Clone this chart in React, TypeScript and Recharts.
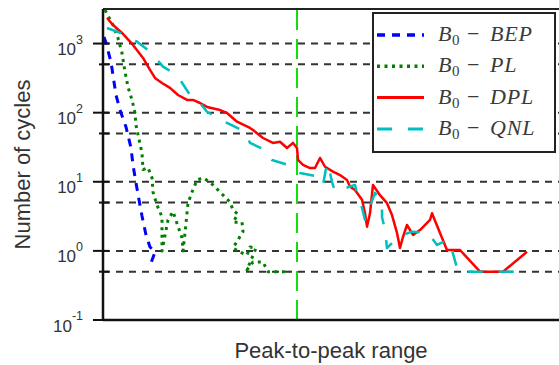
import React from 'react';
import { LineChart, Line, XAxis, YAxis, CartesianGrid, ReferenceLine, Legend } from 'recharts';

// x: peak-to-peak range (arbitrary units), v: number of cycles
const bepX = [1, 3, 8, 13, 17, 23, 28, 30, 33, 36, 39, 43, 47, 52, 48, 48];
const bepV = [1250, 1020, 540, 180, 109, 62, 31, 17.5, 9.6, 5.5, 3.2, 1.7, 1.14, 0.96, 0.67, 0.57];

const plX = [2, 10, 15, 19, 22, 25, 29, 32, 33, 35, 39, 40, 45, 49, 50, 54, 59, 59, 65, 70, 74, 79, 80, 82, 85, 89, 94, 100, 107, 117, 127, 130, 135, 130, 139, 140, 130, 137, 144, 147, 153, 144, 150, 160, 165, 187];
const plV = [3060, 1860, 1200, 730, 390, 235, 153, 99, 66, 48, 26, 15, 16, 11.4, 7.1, 4.6, 3.1, 1.0, 2.8, 3.7, 2.5, 1.55, 1.0, 1.8, 4.9, 7.1, 10.6, 11.4, 9.9, 7.1, 5.1, 3.9, 3.4, 2.6, 2.6, 1.9, 1.1, 0.96, 0.87, 1.14, 1.1, 0.53, 0.69, 0.69, 0.5, 0.5];

const dplX = [4, 10, 19, 30, 40, 47, 52, 59, 67, 75, 84, 90, 97, 104, 117, 124, 134, 147, 150, 160, 170, 177, 184, 190, 194, 195, 200, 207, 212, 217, 222, 230, 237, 244, 247, 252, 259, 262, 264, 267, 270, 277, 284, 289, 294, 297, 300, 304, 310, 317, 327, 329, 337, 344, 357, 377, 400, 424];
const dplV = [2345, 1858, 1423, 955, 619, 415, 318, 269, 228, 180, 153, 153, 138, 121, 109, 99, 74, 60, 56, 43, 36.5, 38, 30.8, 36.5, 30.8, 20.7, 17.5, 15.8, 15.8, 22.1, 16.5, 14.0, 12.5, 10.6, 8.5, 7.6, 5.5, 3.5, 2.24, 3.5, 9.0, 6.4, 4.9, 3.3, 1.82, 1.1, 1.6, 2.37, 1.7, 2.0, 2.8, 3.5, 1.82, 1.03, 1.03, 0.5, 0.5, 0.97];

const qnlX = [4, 15, 34, 47, 60, 74, 87, 97, 104, 124, 142, 147, 162, 169, 185, 197, 215, 220, 224, 227, 229, 232, 252, 255, 259, 262, 272, 279, 279, 282, 284, 289, 300, 309, 325, 334, 344, 349, 355, 415];
const qnlV = [1680, 1470, 1066, 764, 463, 351, 180, 138, 103, 71, 53, 36.5, 28.9, 20.7, 17.5, 13.4, 11.9, 9.0, 18.7, 13.4, 10, 7.2, 9.0, 6.1, 4.2, 2.8, 6.9, 4.9, 3.1, 2.0, 1.1, 1.3, 1.7, 1.9, 1.82, 1.22, 1.44, 1.03, 0.5, 0.5];

const yTicks = [0.1, 0.5, 1, 5, 10, 50, 100, 500, 1000];
const gridValues = [0.5, 1, 5, 10, 50, 100, 500, 1000];
const xDomain = [0, 456];
const yDomain = [0.1, 3162];
const boundaryX = 194;

const zip = (xs: number[], vs: number[]) => xs.map((x, i) => ({ x, v: vs[i] }));

const SERIES = [
  { key: 'BEP', name: 'BEP', data: zip(bepX, bepV), color: '#0000ff', width: 3, dash: '8 7' },
  { key: 'PL', name: 'PL', data: zip(plX, plV), color: '#007f00', width: 3, dash: '3 4.5' },
  { key: 'DPL', name: 'DPL', data: zip(dplX, dplV), color: '#ff0000', width: 2.5, dash: undefined },
  { key: 'QNL', name: 'QNL', data: zip(qnlX, qnlV), color: '#00bfbf', width: 2.5, dash: '15 16' },
];

const SANS = "'Liberation Sans', Arial, Helvetica, sans-serif";
const SERIF = "'Liberation Serif', 'Times New Roman', serif";

const YTick = (props: any) => {
  const { x, y, payload } = props;
  const v = payload.value;
  const lg = Math.log10(v);
  const exp = Math.round(lg);
  const major = Math.abs(lg - exp) < 1e-6;
  return (
    <g>
      <line x1={x - (major ? 10 : 4)} x2={x + 6} y1={y} y2={y} stroke="#111" strokeWidth={2} />
      {major && (
        <text x={x - 20} y={y + 11.5} textAnchor="end" fontFamily={SANS} fontSize={17} fill="#333">
          10
          <tspan dy={-11.5} fontSize={12.5}>{String(exp)}</tspan>
        </text>
      )}
    </g>
  );
};

const LegendBox = () => (
  <svg width={185} height={142} style={{ display: 'block' }}>
    <rect x={1} y={1} width={182} height={139} fill="#fff" stroke="#222" strokeWidth={2} />
    {SERIES.map((s, i) => {
      const cy = 23 + i * 31.3;
      return (
        <g key={s.key}>
          <line x1={5} x2={52} y1={cy} y2={cy} stroke={s.color} strokeWidth={s.width + 0.5} strokeDasharray={s.dash} />
          <text y={cy + 6} fontFamily={SERIF} fontSize={22} fill="#3a3a3a">
            <tspan x={66} fontStyle="italic">B</tspan>
            <tspan x={80} dy={4} fontSize={15}>0</tspan>
            <tspan x={95} dy={-4}>−</tspan>
            <tspan x={118} fontStyle="italic" letterSpacing={0.8}>{s.name}</tspan>
          </text>
        </g>
      );
    })}
  </svg>
);

const YLabel = (props: any) => {
  const vb = props.viewBox || {};
  const cx = (vb.x || 0) + 30;
  const cy = (vb.y || 0) + (vb.height || 0) / 2;
  return (
    <text x={cx} y={cy} transform={`rotate(-90, ${cx}, ${cy})`} textAnchor="middle" fontFamily={SANS} fontSize={22} fill="#333">
      Number of cycles
    </text>
  );
};

export default function App() {
  return (
    <div style={{ position: 'absolute', left: 0, top: 0, background: '#fff' }}>
      <LineChart width={559} height={365} margin={{ top: 9, right: 0, bottom: 0, left: 0 }}>
        <CartesianGrid
          horizontal={true}
          vertical={false}
          horizontalValues={gridValues}
          stroke="#333"
          strokeWidth={2}
          strokeDasharray="7 6"
        />
        <XAxis
          type="number"
          dataKey="x"
          domain={xDomain}
          allowDataOverflow
          tick={false}
          tickLine={false}
          height={45}
          axisLine={{ stroke: '#111', strokeWidth: 2.5 }}
          label={{ value: 'Peak-to-peak range', position: 'insideBottom', offset: 7, fontFamily: SANS, fontSize: 22, fill: '#333' }}
        />
        <YAxis
          type="number"
          scale="log"
          domain={yDomain}
          allowDataOverflow
          ticks={yTicks}
          interval={0}
          width={103}
          tickSize={0}
          tickMargin={0}
          tickLine={false}
          tick={<YTick />}
          axisLine={{ stroke: '#111', strokeWidth: 2.5 }}
          label={<YLabel />}
        />
        <ReferenceLine y={yDomain[1]} stroke="#222" strokeWidth={2} />
        <ReferenceLine x={boundaryX} stroke="#11dd11" strokeWidth={2} strokeDasharray="20 9" />
        {SERIES.map((s) => (
          <Line
            key={s.key}
            name={s.name}
            data={s.data}
            dataKey="v"
            type="linear"
            stroke={s.color}
            strokeWidth={s.width}
            strokeDasharray={s.dash}
            strokeLinejoin="round"
            dot={false}
            activeDot={false}
            isAnimationActive={false}
          />
        ))}
        <Legend
          layout="vertical"
          align="center"
          verticalAlign="middle"
          wrapperStyle={{ left: 372, top: 12, width: 185, height: 142 }}
          content={() => <LegendBox />}
        />
      </LineChart>
    </div>
  );
}
